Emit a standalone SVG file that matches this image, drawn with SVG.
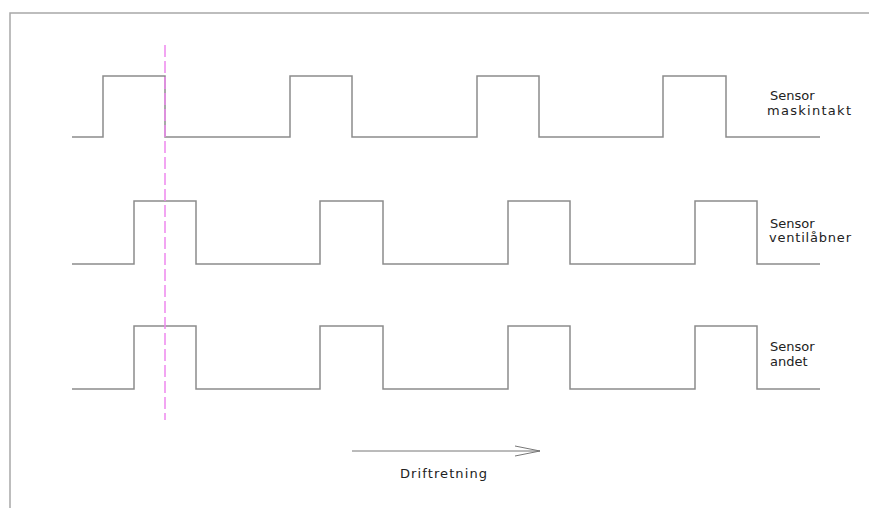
<svg xmlns="http://www.w3.org/2000/svg" width="869" height="508" viewBox="0 0 869 508">
<style>
.sig{fill:none;stroke:#8c8c8c;stroke-width:1.5}
.frame{fill:none;stroke:#a8a8a8;stroke-width:1.5}
.lbl{font-family:"DejaVu Sans","Liberation Sans",sans-serif;font-size:13px;fill:#222}
.cut{stroke:#ee88ee;stroke-width:1.5;stroke-dasharray:12 4}
</style>
<defs>
<marker id="open" markerWidth="26" markerHeight="12" refX="25" refY="6" orient="auto" markerUnits="userSpaceOnUse">
<path d="M0,1 L25,6 L0,11" fill="none" stroke="#777" stroke-width="1"/>
</marker>
</defs>
<rect width="869" height="508" fill="#fff"/>
<path class="frame" d="M10,508 V13 H869"/>
<g id="sensor-maskintakt">
<path class="sig" d="M72,137 H103 V76 H165 V137 H290 V76 H352 V137 H477 V76 H539 V137 H663 V76 H726 V137 H820"/>
<text class="lbl" x="770" y="100">Sensor</text>
<text class="lbl" x="767" y="114.5" textLength="84" lengthAdjust="spacing">maskintakt</text>
</g>
<g id="sensor-ventilabner">
<path class="sig" d="M72,264 H134 V201 H196 V264 H320 V201 H383 V264 H508 V201 H570 V264 H695 V201 H757 V264 H820"/>
<text class="lbl" x="770" y="227.5">Sensor</text>
<text class="lbl" x="769" y="242" textLength="82" lengthAdjust="spacing">ventilåbner</text>
</g>
<g id="sensor-andet">
<path class="sig" d="M72,389 H134 V326 H196 V389 H320 V326 H383 V389 H508 V326 H570 V389 H695 V326 H757 V389 H820"/>
<text class="lbl" x="770" y="351">Sensor</text>
<text class="lbl" x="770" y="365.5">andet</text>
</g>
<g id="connectors">
<line class="cut" x1="165" y1="45" x2="165" y2="420"/>
<line x1="352" y1="451" x2="540" y2="451" stroke="#777" stroke-width="1" marker-end="url(#open)"/>
</g>
<g id="drift-label">
<text class="lbl" x="400" y="478" textLength="87" lengthAdjust="spacing">Driftretning</text>
</g>
</svg>
